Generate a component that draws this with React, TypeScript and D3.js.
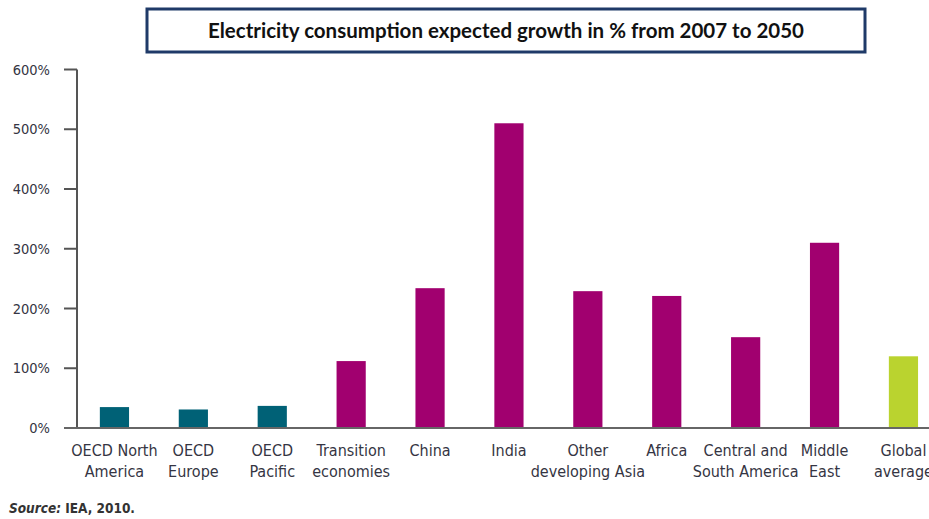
import React from "react";
import * as d3 from "d3";

const categories: string[][] = [
  ["OECD North", "America"],
  ["OECD", "Europe"],
  ["OECD", "Pacific"],
  ["Transition", "economies"],
  ["China"],
  ["India"],
  ["Other", "developing Asia"],
  ["Africa"],
  ["Central and", "South America"],
  ["Middle", "East"],
  ["Global", "average"],
];
const values: number[] = [35, 31, 37, 112, 234, 510, 229, 221, 152, 310, 120];
const groups: string[] = ["oecd", "oecd", "oecd", "dev", "dev", "dev", "dev", "dev", "dev", "dev", "global"];
const yTicks: number[] = [0, 100, 200, 300, 400, 500, 600];
const title = "Electricity consumption expected growth in % from 2007 to 2050";

const colors: Record<string, string> = { oecd: "#006176", dev: "#a1006f", global: "#bad32f" };

export default function App() {
  const W = 929, H = 519;
  const x = d3.scaleBand<number>()
    .domain(values.map((_, i) => i))
    .range([75, 75 + 11 * 78.9])
    .paddingInner(0.63)
    .paddingOuter(0.315);
  const y = d3.scaleLinear().domain([0, 600]).range([428, 69.5]);
  const labelFont = "'DejaVu Sans Condensed', 'DejaVu Sans', sans-serif";
  const textColor = "#353543";
  return (
    <div style={{ position: "absolute", left: 0, top: 0 }}>
      <svg width={W} height={H} style={{ display: "block", background: "#fff" }}>
        <rect x={147} y={9} width={718} height={43} fill="#fff" stroke="#1f3a68" strokeWidth={3} />
        <text x={506} y={38} textAnchor="middle" fontFamily="Lato, 'Liberation Sans', sans-serif" fontWeight={700} fontSize={20.5} fill="#111">
          {title}
        </text>
        {/* y axis */}
        <line x1={77} x2={77} y1={y(600)} y2={y(0)} stroke="#555" strokeWidth={2} />
        {yTicks.map((t) => (
          <g key={t}>
            <line x1={64} x2={77} y1={y(t)} y2={y(t)} stroke="#555" strokeWidth={2} />
            <text x={50} y={y(t) + 5} textAnchor="end" fontFamily={labelFont} fontSize={14.5} fill={textColor}>
              {t + "%"}
            </text>
          </g>
        ))}
        {values.map((v, i) => (
          <rect key={i} x={x(i)} y={y(v)} width={x.bandwidth()} height={y(0) - y(v)} fill={colors[groups[i]]} />
        ))}
        <line x1={64} x2={W} y1={y(0)} y2={y(0)} stroke="#666" strokeWidth={2} />
        {categories.map((lines, i) => (
          <text key={i} textAnchor="middle" fontFamily={labelFont} fontSize={16} fill={textColor}>
            {lines.map((l, j) => (
              <tspan key={j} x={(x(i) as number) + x.bandwidth() / 2} y={456 + j * 21}>{l}</tspan>
            ))}
          </text>
        ))}
        <text x={9} y={513} fontFamily={labelFont} fontSize={13.5} fill="#333" fontWeight={700}>
          <tspan fontStyle="italic">Source:</tspan>
          <tspan> IEA, 2010.</tspan>
        </text>
      </svg>
    </div>
  );
}
